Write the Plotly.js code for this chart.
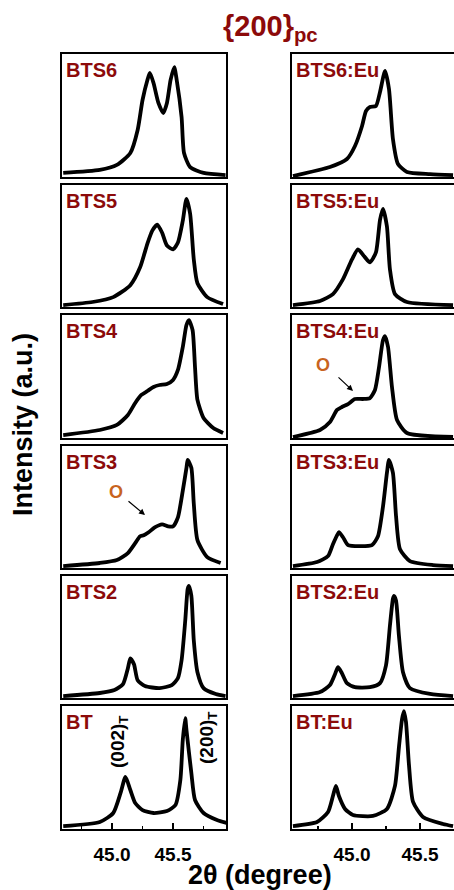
<!DOCTYPE html>
<html><head><meta charset="utf-8">
<script src="https://cdn.plot.ly/plotly-3.0.1.min.js"></script>
<style>html,body{margin:0;padding:0;background:#fff}#plot{width:454px;height:890px}</style>
</head><body><div id="plot"></div>
<script>
// ---- data: 2theta (degree) and intensity (a.u.) ----
const panelNames = ["BTS6","BTS5","BTS4","BTS3","BTS2","BT"];
const panelNamesEu = ["BTS6:Eu","BTS5:Eu","BTS4:Eu","BTS3:Eu","BTS2:Eu","BT:Eu"];
const tickVals = [45.0, 45.5];
const tickText = ["45.0", "45.5"];

const bts6_x = [44.60,44.90,45.04,45.15,45.21,45.25,45.29,45.31,45.34,45.38,45.42,45.45,45.48,45.51,45.53,45.57,45.59,45.64,45.75,45.93];
const bts6_y = [3.3,5.7,9.8,19.5,38.2,62.6,78.9,84.6,76.4,60.2,52.0,60.2,78.9,89.4,78.9,48.8,19.5,8.1,3.3,1.6];

const bts5_x = [44.60,44.84,45.01,45.15,45.23,45.29,45.33,45.37,45.41,45.45,45.50,45.54,45.58,45.61,45.64,45.67,45.70,45.78,45.91];
const bts5_y = [1.6,4.1,8.1,17.9,32.5,52.0,62.6,67.5,61.0,50.4,47.2,52.8,70.7,88.6,76.4,39.0,19.5,8.1,2.4];

const bts4_x = [44.60,44.90,45.04,45.13,45.19,45.24,45.29,45.34,45.39,45.45,45.50,45.54,45.58,45.61,45.63,45.66,45.68,45.70,45.75,45.83,45.91];
const bts4_y = [2.4,6.5,10.6,18.7,28.5,35.0,38.2,41.5,43.1,43.9,47.2,55.3,74.0,91.9,95.9,87.8,57.7,30.9,16.3,8.1,4.1];

const bts3_x = [44.60,44.90,45.04,45.13,45.19,45.23,45.26,45.30,45.35,45.41,45.46,45.50,45.54,45.58,45.61,45.62,45.65,45.67,45.70,45.78,45.89];
const bts3_y = [1.6,4.1,6.5,12.2,20.3,26.0,26.8,29.3,33.3,35.8,34.1,34.1,41.5,63.4,82.1,88.6,82.1,52.8,22.8,8.9,4.1];

const bts2_x = [44.60,44.90,45.02,45.09,45.13,45.15,45.18,45.21,45.27,45.39,45.49,45.54,45.57,45.60,45.62,45.63,45.65,45.67,45.70,45.75,45.85,45.93];
const bts2_y = [1.6,4.1,6.5,11.4,24.4,32.5,27.6,14.6,9.8,8.1,10.6,16.3,30.9,63.4,89.4,91.9,83.7,47.2,21.1,8.1,3.3,1.6];

const bt_x = [44.60,44.90,45.01,45.07,45.11,45.15,45.19,45.25,45.34,45.45,45.52,45.56,45.58,45.60,45.61,45.65,45.68,45.75,45.86,45.94];
const bt_y = [2.4,5.7,13.0,29.3,42.3,31.7,21.1,15.4,13.0,14.6,19.5,39.8,72.4,90.2,80.5,45.5,23.6,13.0,7.3,4.9];

const bts6eu_x = [44.566,44.838,44.963,45.022,45.074,45.103,45.132,45.176,45.206,45.243,45.272,45.301,45.338,45.404,45.574,45.743];
const bts6eu_y = [0.8,8.1,14.6,25.2,41.5,53.7,56.9,57.7,69.1,86.2,71.5,30.9,10.6,4.1,2.4,1.6];

const bts5eu_x = [44.566,44.765,44.860,44.934,45.000,45.044,45.096,45.132,45.176,45.206,45.228,45.257,45.279,45.316,45.404,45.743];
const bts5eu_y = [1.6,4.9,10.6,22.8,39.0,47.2,40.7,36.6,44.7,71.5,80.5,65.9,30.9,10.6,4.1,1.6];

const bts4eu_x = [44.566,44.765,44.838,44.890,44.926,44.971,45.022,45.081,45.132,45.169,45.199,45.228,45.243,45.265,45.294,45.331,45.404,45.743];
const bts4eu_y = [0.8,6.5,13.0,22.8,25.2,27.6,31.7,31.7,32.5,39.0,57.7,79.7,82.9,74.0,41.5,14.6,4.1,0.8];

const bts3eu_x = [44.566,44.743,44.824,44.860,44.890,44.904,44.934,44.971,45.059,45.147,45.191,45.228,45.257,45.272,45.301,45.324,45.353,45.426,45.596,45.743];
const bts3eu_y = [1.6,4.9,9.8,19.5,26.8,29.3,25.2,18.7,17.9,18.7,26.0,50.4,78.0,88.6,78.0,42.3,15.4,5.7,2.4,1.6];

const bts2eu_x = [44.566,44.765,44.838,44.875,44.897,44.926,44.963,45.022,45.132,45.206,45.250,45.279,45.301,45.309,45.324,45.345,45.375,45.426,45.574,45.743];
const bts2eu_y = [1.6,4.9,10.6,19.5,25.2,20.3,12.2,8.9,8.9,12.2,26.8,59.3,81.3,83.7,79.7,51.2,21.1,8.1,3.3,1.6];

const bteu_x = [44.566,44.743,44.824,44.860,44.882,44.904,44.949,45.007,45.154,45.257,45.316,45.346,45.368,45.382,45.397,45.419,45.449,45.522,45.669,45.743];
const bteu_y = [2.4,5.7,13.8,26.8,35.0,26.8,16.3,11.4,10.6,16.3,35.0,67.5,89.4,95.9,87.0,52.0,22.0,9.8,4.1,2.4];

const leftX = [bts6_x,bts5_x,bts4_x,bts3_x,bts2_x,bt_x];
const leftY = [bts6_y,bts5_y,bts4_y,bts3_y,bts2_y,bt_y];
const rightX = [bts6eu_x,bts5eu_x,bts4eu_x,bts3eu_x,bts2eu_x,bteu_x];
const rightY = [bts6eu_y,bts5eu_y,bts4eu_y,bts3eu_y,bts2eu_y,bteu_y];

// ---- layout geometry (pixels) ----
const W = 454, H = 890;
const rowTop = [54,185,315,446,576,706];
const rowBot = [177,307,438,568,698,829];
const colL = [[62,226],[292,454]];
const xRanges = [[44.59,45.934],[44.559,45.75]];
const PX = v => v / W;
const PY = v => 1 - v / H;
const DARKRED = '#8c0a0a';
const ORANGE = '#c8641e';
const FONT = 'Liberation Sans, Arial, sans-serif';

const traces = [];
const layout = {
  width: W, height: H, margin: {l:0,r:0,t:0,b:0},
  paper_bgcolor: '#fff', plot_bgcolor: '#fff', showlegend: false,
  annotations: [], font: {family: FONT, color: '#000'}
};

let n = 0;
for (let c = 0; c < 2; c++) {
  for (let r = 0; r < 6; r++) {
    n++;
    const xs = c === 0 ? leftX[r] : rightX[r];
    const ys = c === 0 ? leftY[r] : rightY[r];
    const xa = 'x' + (n === 1 ? '' : n), ya = 'y' + (n === 1 ? '' : n);
    traces.push({x: xs, y: ys, xaxis: xa, yaxis: ya, type: 'scatter', mode: 'lines',
      line: {color: '#000', width: 3.8, shape: 'spline', smoothing: 0.6}, hoverinfo: 'skip'});
    const bottom = r === 5;
    const xk = 'xaxis' + (n === 1 ? '' : n), yk = 'yaxis' + (n === 1 ? '' : n);
    layout[xk] = {
      domain: [PX(colL[c][0]), PX(colL[c][1])], anchor: ya, range: xRanges[c],
      showline: true, mirror: true, linecolor: '#000', linewidth: 2.2, showgrid: false, zeroline: false,
      ticks: bottom ? 'inside' : '', ticklen: 6, tickwidth: 1.5, tickcolor: '#000',
      tickvals: tickVals, ticktext: tickText, showticklabels: bottom,
      ticklabelstandoff: 7,
      tickfont: {family: FONT, size: 19, weight: 'bold', color: '#000'},
      minor: bottom ? {tickvals: [44.75, 45.25, 45.75], ticks: 'inside', ticklen: 3, tickwidth: 1.5, tickcolor: '#000'} : {ticks: ''}
    };
    layout[yk] = {
      domain: [PY(rowBot[r]), PY(rowTop[r])], anchor: xa, range: [0, 100],
      showline: true, mirror: c === 0, linecolor: '#000', linewidth: 2.2, showgrid: false, zeroline: false,
      showticklabels: false, ticks: ''
    };
    layout.annotations.push({
      xref: xa + ' domain', yref: ya + ' domain', x: 0.015, y: 0.975, xanchor: 'left', yanchor: 'top',
      text: '<b>' + (c === 0 ? panelNames[r] : panelNamesEu[r]) + '</b>', showarrow: false,
      font: {family: FONT, size: 20, color: DARKRED}
    });
  }
}

const A = layout.annotations;
A.push({xref:'paper', yref:'paper', x: PX(270), y: PY(28), text:'<b>{200}<sub>pc</sub></b>', showarrow:false,
  font:{family:FONT, size:29, color:DARKRED}, xanchor:'center', yanchor:'middle'});
A.push({xref:'paper', yref:'paper', x: PX(23), y: PY(425), text:'<b>Intensity (a.u.)</b>', textangle:-90, showarrow:false,
  font:{family:FONT, size:27, color:'#000'}, xanchor:'center', yanchor:'middle'});
A.push({xref:'paper', yref:'paper', x: PX(260), y: PY(875), text:'<b>2θ (degree)</b>', showarrow:false,
  font:{family:FONT, size:27, color:'#000'}, xanchor:'center', yanchor:'middle'});
A.push({xref:'paper', yref:'paper', x: PX(119), y: PY(742), text:'<b>(002)<sub>T</sub></b>', textangle:-90, showarrow:false,
  font:{family:FONT, size:19, color:'#000'}, xanchor:'center', yanchor:'middle'});
A.push({xref:'paper', yref:'paper', x: PX(208), y: PY(738), text:'<b>(200)<sub>T</sub></b>', textangle:-90, showarrow:false,
  font:{family:FONT, size:19, color:'#000'}, xanchor:'center', yanchor:'middle'});
// "O" markers and arrows
A.push({xref:'paper', yref:'paper', x: PX(116), y: PY(492), text:'<b>O</b>', showarrow:false,
  font:{family:FONT, size:18, color:ORANGE}, xanchor:'center', yanchor:'middle'});
A.push({xref:'paper', yref:'paper', x: PX(145), y: PY(515), ax: PX(127), ay: PY(500), axref:'paper', ayref:'paper',
  text:'', showarrow:true, arrowhead:2, arrowsize:1, arrowwidth:1.2, arrowcolor:'#000', standoff:0, startstandoff:0});
A.push({xref:'paper', yref:'paper', x: PX(323), y: PY(365), text:'<b>O</b>', showarrow:false,
  font:{family:FONT, size:18, color:ORANGE}, xanchor:'center', yanchor:'middle'});
A.push({xref:'paper', yref:'paper', x: PX(353), y: PY(391), ax: PX(337), ay: PY(376), axref:'paper', ayref:'paper',
  text:'', showarrow:true, arrowhead:2, arrowsize:1, arrowwidth:1.2, arrowcolor:'#000', standoff:0, startstandoff:0});

Plotly.newPlot('plot', traces, layout, {staticPlot: true, displayModeBar: false});
</script></body></html>
